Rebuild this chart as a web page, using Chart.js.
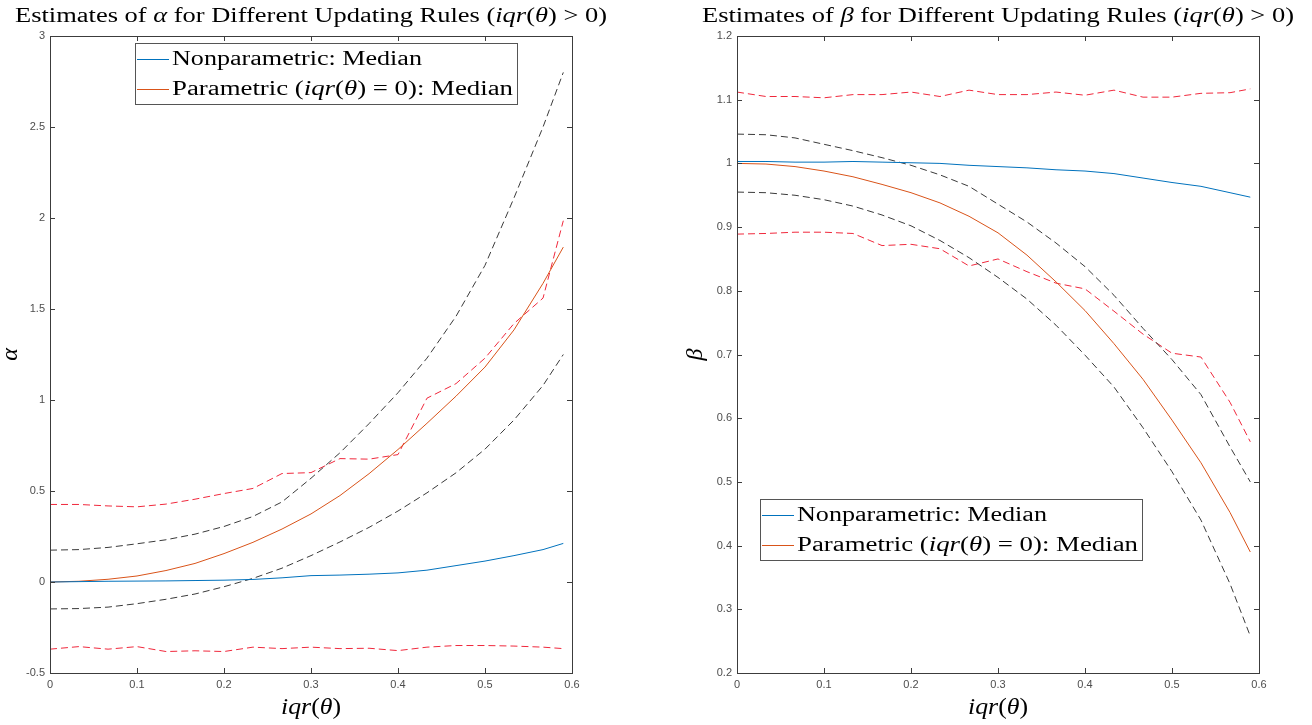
<!DOCTYPE html>
<html>
<head>
<meta charset="utf-8">
<script src="https://cdn.jsdelivr.net/npm/chart.js@4"></script>
<style>
  html, body { margin: 0; padding: 0; background: #fff; }
  .pane { position: absolute; top: 0; width: 656px; height: 725px; }
</style>
</head>
<body>
<div class="pane" style="left:0"><canvas id="alphaChart" width="656" height="725"></canvas></div>
<div class="pane" style="left:656px"><canvas id="betaChart" width="656" height="725"></canvas></div>
<script>
// iqr(theta) grid shared by both panels
const iqr = [0, 0.0333, 0.0667, 0.1, 0.1333, 0.1667, 0.2, 0.2333, 0.2667, 0.3, 0.3333, 0.3667, 0.4, 0.4333, 0.4667, 0.5, 0.5333, 0.5667, 0.59];

// alpha panel
const alphaNonpar = [0, 0.002, 0.004, 0.005, 0.006, 0.008, 0.010, 0.014, 0.023, 0.035, 0.038, 0.043, 0.050, 0.065, 0.090, 0.115, 0.145, 0.178, 0.212];
const alphaPar    = [0, 0.004, 0.015, 0.033, 0.063, 0.102, 0.156, 0.218, 0.291, 0.374, 0.475, 0.595, 0.728, 0.872, 1.021, 1.181, 1.385, 1.641, 1.840];
const alphaParHi  = [0.175, 0.178, 0.19, 0.21, 0.232, 0.263, 0.305, 0.36, 0.44, 0.57, 0.71, 0.87, 1.04, 1.23, 1.46, 1.74, 2.11, 2.50, 2.80];
const alphaParLo  = [-0.148, -0.146, -0.138, -0.119, -0.095, -0.066, -0.026, 0.02, 0.076, 0.145, 0.22, 0.30, 0.39, 0.49, 0.60, 0.73, 0.89, 1.08, 1.25];
const alphaNpHi   = [0.426, 0.426, 0.418, 0.413, 0.428, 0.455, 0.486, 0.514, 0.596, 0.601, 0.678, 0.675, 0.70, 1.01, 1.09, 1.23, 1.42, 1.56, 1.985];
const alphaNpLo   = [-0.369, -0.355, -0.369, -0.355, -0.382, -0.378, -0.382, -0.358, -0.366, -0.358, -0.366, -0.364, -0.377, -0.358, -0.349, -0.349, -0.352, -0.358, -0.366];

// beta panel
const betaNonpar = [1.003, 1.003, 1.002, 1.002, 1.003, 1.002, 1.001, 1.000, 0.997, 0.995, 0.993, 0.990, 0.988, 0.984, 0.977, 0.970, 0.964, 0.954, 0.947];
const betaPar    = [1.000, 0.999, 0.995, 0.988, 0.979, 0.967, 0.954, 0.938, 0.917, 0.891, 0.856, 0.814, 0.769, 0.717, 0.661, 0.597, 0.530, 0.452, 0.390];
const betaParHi  = [1.046, 1.045, 1.040, 1.030, 1.020, 1.009, 0.997, 0.982, 0.964, 0.936, 0.908, 0.875, 0.838, 0.793, 0.741, 0.692, 0.637, 0.555, 0.500];
const betaParLo  = [0.955, 0.954, 0.950, 0.943, 0.933, 0.919, 0.902, 0.879, 0.852, 0.821, 0.787, 0.746, 0.699, 0.649, 0.585, 0.516, 0.440, 0.340, 0.258];
const betaNpHi   = [1.112, 1.105, 1.105, 1.103, 1.108, 1.108, 1.112, 1.105, 1.115, 1.108, 1.108, 1.112, 1.107, 1.115, 1.104, 1.104, 1.110, 1.111, 1.117];
const betaNpLo   = [0.889, 0.890, 0.892, 0.892, 0.890, 0.871, 0.873, 0.866, 0.839, 0.850, 0.830, 0.812, 0.803, 0.768, 0.732, 0.702, 0.696, 0.625, 0.563];

// ticks
const xTicks = [0, 0.1, 0.2, 0.3, 0.4, 0.5, 0.6];
const xTickLabels = ['0', '0.1', '0.2', '0.3', '0.4', '0.5', '0.6'];
const alphaTicks = [-0.5, 0, 0.5, 1, 1.5, 2, 2.5, 3];
const alphaTickLabels = ['-0.5', '0', '0.5', '1', '1.5', '2', '2.5', '3'];
const betaTicks = [0.2, 0.3, 0.4, 0.5, 0.6, 0.7, 0.8, 0.9, 1, 1.1, 1.2];
const betaTickLabels = ['0.2', '0.3', '0.4', '0.5', '0.6', '0.7', '0.8', '0.9', '1', '1.1', '1.2'];

const legendLabels = ['Nonparametric: Median', 'Parametric (iqr(θ) = 0): Median'];

const SERIF = '"Liberation Serif", "DejaVu Serif", serif';
const tickFont = { family: '"Liberation Sans", Arial, sans-serif', size: 11 };
const tickColor = '#4d4d4d';

// text runs: [text, italic]
function runsWidth(ctx, runs, size) {
  let w = 0;
  runs.forEach(r => {
    ctx.font = (r[1] ? 'italic ' : '') + size + 'px ' + SERIF;
    w += ctx.measureText(r[0]).width;
  });
  return w;
}

function drawRuns(ctx, runs, size, x, y, align, fitW, rotate) {
  const w = runsWidth(ctx, runs, size);
  const sx = fitW ? fitW / w : 1;
  ctx.save();
  ctx.translate(x, y);
  if (rotate) ctx.rotate(-Math.PI / 2);
  ctx.scale(sx, 1);
  ctx.fillStyle = '#000';
  ctx.textAlign = 'left';
  ctx.textBaseline = 'alphabetic';
  let cx = align === 'center' ? -w / 2 : 0;
  runs.forEach(r => {
    ctx.font = (r[1] ? 'italic ' : '') + size + 'px ' + SERIF;
    ctx.fillText(r[0], cx, 0);
    cx += ctx.measureText(r[0]).width;
  });
  ctx.restore();
}

function mathRuns(s) {
  // italicise iqr, θ, α, β as LaTeX would
  const out = [];
  s.split(/(iqr|θ|α|β)/).forEach(p => {
    if (!p) return;
    out.push([p, /^(iqr|θ|α|β)$/.test(p)]);
  });
  return out;
}

function makeDecor(cfg) {
  return {
    id: 'decor',
    afterDraw(chart) {
      const ctx = chart.ctx;
      const a = chart.chartArea;
      const xs = chart.scales.x, ys = chart.scales.y;
      const cx = (a.left + a.right) / 2;

      // box + inward ticks
      ctx.save();
      ctx.strokeStyle = '#3c3c3c';
      ctx.lineWidth = 1;
      ctx.strokeRect(Math.round(a.left) + 0.5, Math.round(a.top) + 0.5, Math.round(a.right - a.left), Math.round(a.bottom - a.top));
      ctx.beginPath();
      xs.ticks.forEach(t => {
        const px = Math.round(xs.getPixelForValue(t.value)) + 0.5;
        ctx.moveTo(px, a.bottom); ctx.lineTo(px, a.bottom - 5);
        ctx.moveTo(px, a.top); ctx.lineTo(px, a.top + 5);
      });
      ys.ticks.forEach(t => {
        const py = Math.round(ys.getPixelForValue(t.value)) + 0.5;
        ctx.moveTo(a.left, py); ctx.lineTo(a.left + 5, py);
        ctx.moveTo(a.right, py); ctx.lineTo(a.right - 5, py);
      });
      ctx.stroke();
      ctx.restore();

      // title and axis labels
      drawRuns(ctx, mathRuns(cfg.title), 20, cx, 22, 'center', 592);
      drawRuns(ctx, mathRuns('iqr(θ)'), 24, cx, 714, 'center', 60);
      drawRuns(ctx, mathRuns(cfg.ylabel), 24, cfg.ylabelX, (a.top + a.bottom) / 2, 'center', 0, true);

      // legend box
      const L = cfg.legend;
      ctx.save();
      ctx.fillStyle = '#fff';
      ctx.fillRect(L.x, L.y, 382, 61);
      ctx.strokeStyle = '#555';
      ctx.lineWidth = 1;
      ctx.strokeRect(L.x + 0.5, L.y + 0.5, 382, 61);
      const items = chart.data.datasets.filter(d => d.label);
      items.forEach((d, i) => {
        const ly = L.y + 16 + i * 30;
        ctx.strokeStyle = d.borderColor;
        ctx.beginPath();
        ctx.moveTo(L.x + 2, ly + 0.5);
        ctx.lineTo(L.x + 34, ly + 0.5);
        ctx.stroke();
      });
      ctx.restore();
      items.forEach((d, i) => {
        drawRuns(ctx, mathRuns(d.label), 20, L.x + 37, L.y + 22 + i * 30, 'left', i === 0 ? 250 : 341);
      });
    }
  };
}

function pts(ys) {
  return ys.map((v, i) => ({ x: iqr[i], y: v }));
}

function buildDatasets(nonpar, par, parHi, parLo, npHi, npLo) {
  const dashed = [7, 4];
  return [
    { label: legendLabels[0], data: pts(nonpar), borderColor: '#0072bd' },
    { label: legendLabels[1], data: pts(par), borderColor: '#d95319' },
    { data: pts(parHi), borderColor: '#3a3a3a', borderDash: dashed },
    { data: pts(parLo), borderColor: '#3a3a3a', borderDash: dashed },
    { data: pts(npHi), borderColor: '#f0283c', borderDash: dashed },
    { data: pts(npLo), borderColor: '#f0283c', borderDash: dashed }
  ];
}

function buildOptions(yMin, yMax, yTicks, yLabels, yWidth, padLeft, padRight) {
  return {
    responsive: false,
    animation: false,
    layout: { padding: { top: 36, left: padLeft, right: padRight, bottom: 0 } },
    plugins: { legend: { display: false }, title: { display: false }, tooltip: { enabled: false } },
    elements: { point: { radius: 0 }, line: { borderWidth: 1, tension: 0 } },
    scales: {
      x: {
        type: 'linear', min: 0, max: 0.6,
        afterBuildTicks: s => { s.ticks = xTicks.map(v => ({ value: v })); },
        afterFit: s => { s.height = 52; },
        grid: { display: false, drawTicks: false },
        border: { display: false },
        ticks: { callback: (v, i) => xTickLabels[i], padding: 5, font: tickFont, color: tickColor, maxRotation: 0, autoSkip: false }
      },
      y: {
        type: 'linear', min: yMin, max: yMax,
        afterBuildTicks: s => { s.ticks = yTicks.map(v => ({ value: v })); },
        afterFit: s => { s.width = yWidth; },
        grid: { display: false, drawTicks: false },
        border: { display: false },
        ticks: { callback: (v, i) => yLabels[i], padding: 5, font: tickFont, color: tickColor, autoSkip: false }
      }
    }
  };
}

new Chart(document.getElementById('alphaChart'), {
  type: 'line',
  data: { datasets: buildDatasets(alphaNonpar, alphaPar, alphaParHi, alphaParLo, alphaNpHi, alphaNpLo) },
  options: buildOptions(-0.5, 3, alphaTicks, alphaTickLabels, 50, 0, 84),
  plugins: [makeDecor({
    title: 'Estimates of α for Different Updating Rules (iqr(θ) > 0)',
    ylabel: 'α', ylabelX: 17,
    legend: { x: 135, y: 43 }
  })]
});

new Chart(document.getElementById('betaChart'), {
  type: 'line',
  data: { datasets: buildDatasets(betaNonpar, betaPar, betaParHi, betaParLo, betaNpHi, betaNpLo) },
  options: buildOptions(0.2, 1.2, betaTicks, betaTickLabels, 45, 36, 53),
  plugins: [makeDecor({
    title: 'Estimates of β for Different Updating Rules (iqr(θ) > 0)',
    ylabel: 'β', ylabelX: 46,
    legend: { x: 104, y: 499 }
  })]
});
</script>
</body>
</html>
